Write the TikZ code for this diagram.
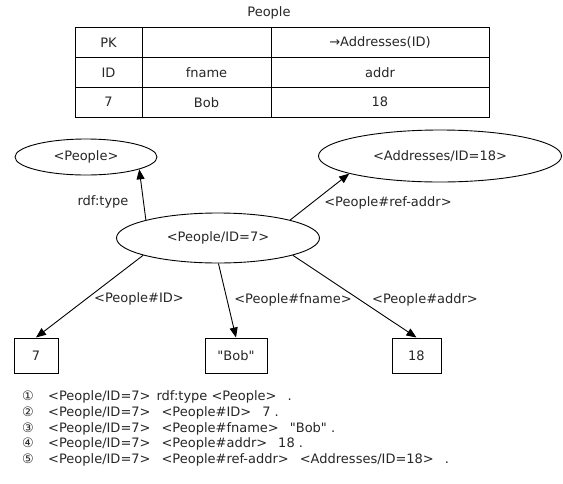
\documentclass[tikz,border=0pt]{standalone}
\usepackage{fontspec}
\newfontfamily\djvfont{DejaVu Sans}
\usetikzlibrary{arrows.meta,shapes.geometric}
\newcommand{\gapx}{\hspace{11pt}}
\newcommand{\numbox}[1]{\makebox[26pt][l]{#1}}
\tikzset{
  txt/.style={font=\djvfont\fontsize{13}{15}\selectfont, text=black!85},
  cell/.style={draw, line width=1pt, minimum height=29.67pt, inner sep=0pt, txt},
  res/.style={draw, ellipse, line width=0.9pt, inner sep=0pt, txt},
  lit/.style={draw, rectangle, line width=1pt, minimum height=35pt, inner sep=0pt, txt},
  edge/.style={-{Triangle[length=10pt,width=8pt]}, line width=0.9pt},
  lbl/.style={txt, inner sep=0pt, text height=10pt, text depth=3pt},
}
\begin{document}
\begin{tikzpicture}[x=1pt,y=-1pt]
\useasboundingbox (0,0) rectangle (563,483);

% title and table
\node[lbl] (title) at (269,13) {People};
\node[cell, minimum width=67pt]  (c11) at (108.5,42.8) {PK};
\node[cell, minimum width=129pt] (c12) at (206.5,42.8) {};
\node[cell, minimum width=218pt] (c13) at (380,42.8) {→Addresses(ID)};
\node[cell, minimum width=67pt]  (c21) at (108.5,72.5) {ID};
\node[cell, minimum width=129pt] (c22) at (206.5,72.5) {fname};
\node[cell, minimum width=218pt] (c23) at (380,72.5) {addr};
\node[cell, minimum width=67pt]  (c31) at (108.5,102.2) {7};
\node[cell, minimum width=129pt] (c32) at (206.5,102.2) {Bob};
\node[cell, minimum width=218pt] (c33) at (380,102.2) {18};

% resources
\node[res, minimum width=142pt, minimum height=36pt] (pp) at (86,157) {<People>};
\node[res, minimum width=243pt, minimum height=52pt] (ad) at (440,156) {<Addresses/ID=18>};
\node[res, minimum width=203pt, minimum height=50pt] (pid) at (218,238) {<People/ID=7>};

% literals
\node[lit, minimum width=44pt] (v7) at (36,355.5) {7};
\node[lit, minimum width=62pt] (vb) at (236,355.5) {"Bob"};
\node[lit, minimum width=49pt] (v18) at (416.5,355.5) {18};

% edges
\draw[edge] (pid.166) -- (pp.347);
\draw[edge] (pid.14) -- (ad.191.5);
\draw[edge] (pid.193) -- (v7.north);
\draw[edge] (pid.271) -- (vb.north);
\draw[edge] (pid.347.4) -- (v18.north);

% edge labels
\node[lbl] (l1) at (103,202) {rdf:type};
\node[lbl] (l2) at (388,203) {<People\#ref-addr>};
\node[lbl] (l3) at (139,299) {<People\#ID>};
\node[lbl] (l4) at (293,300) {<People\#fname>};
\node[lbl] (l5) at (425,300) {<People\#addr>};

% triples
\node[lbl, anchor=west] (t1) at (22,397) {\numbox{①}<People/ID=7>\hspace{6pt}rdf:type <People>\gapx.};
\node[lbl, anchor=west] (t2) at (22,412.75) {\numbox{②}<People/ID=7>\gapx<People\#ID>\gapx 7 .};
\node[lbl, anchor=west] (t3) at (22,428.5) {\numbox{③}<People/ID=7>\gapx<People\#fname>\gapx"Bob" .};
\node[lbl, anchor=west] (t4) at (22,444.25) {\numbox{④}<People/ID=7>\gapx<People\#addr>\gapx 18 .};
\node[lbl, anchor=west] (t5) at (22,460) {\numbox{⑤}<People/ID=7>\gapx<People\#ref-addr>\gapx<Addresses/ID=18>\gapx.};
\end{tikzpicture}
\end{document}
